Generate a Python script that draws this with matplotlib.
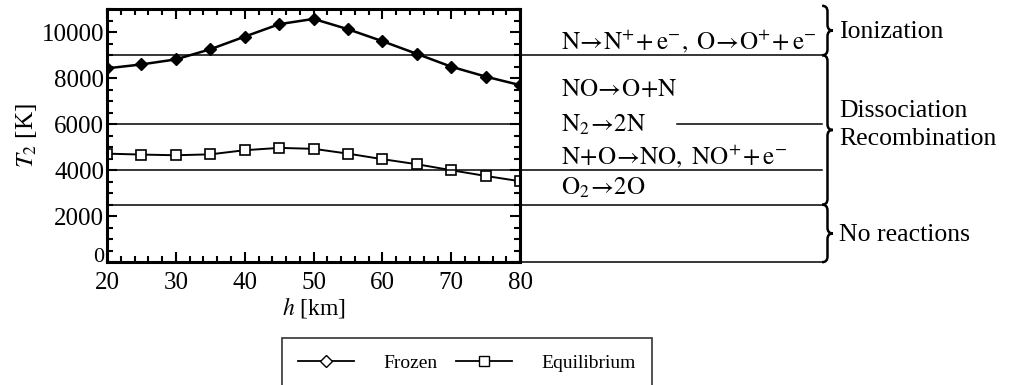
import numpy as np
import matplotlib
matplotlib.use("Agg")
import matplotlib.pyplot as plt
from matplotlib.lines import Line2D
from matplotlib.path import Path
from matplotlib.patches import PathPatch
import matplotlib.transforms as mtransforms

plt.rcParams['font.family'] = ['Liberation Serif', 'DejaVu Serif']
plt.rcParams['mathtext.fontset'] = 'stix'

# Data
altitude = [20, 25, 30, 35, 40, 45, 50, 55, 60, 65, 70, 75, 80]
t_frozen = [8430, 8600, 8820, 9260, 9810, 10350, 10580, 10130, 9610, 9060, 8500, 8070, 7700]
t_equil = [4720, 4680, 4650, 4690, 4870, 4970, 4930, 4720, 4480, 4260, 4000, 3750, 3520]

# reaction threshold temperatures (horizontal lines)
thresholds = [9000, 6000, 4000, 2500, 0]

reactions = [r"$\mathrm{N\!\rightarrow\! N^{+}\!+e^{-},\ O\!\rightarrow\! O^{+}\!+e^{-}}$",
             r"$\mathrm{NO\!\rightarrow\! O\!+\!N}$",
             r"$\mathrm{N_2\!\rightarrow\! 2N}$",
             r"$\mathrm{N\!+\!O\!\rightarrow\! NO,\ NO^{+}\!+e^{-}}$",
             r"$\mathrm{O_2\!\rightarrow\! 2O}$"]
reaction_y = [9600, 7500, 5980, 4590, 3230]

regimes = ["Ionization", "Dissociation\nRecombination", "No reactions"]
regime_span = [(9000, 11150), (2500, 9000), (0, 2500)]
regime_y = [10000, 5950, 1180]


def brace(ax, x0, y0, y1, w, r):
    # vertical curly brace, tip pointing right; x in axes fraction, y in data
    ym = (y0 + y1) / 2
    xh = x0 + w / 2
    verts = [(x0, y1), (xh, y1), (xh, y1 - r), (xh, ym + r), (xh, ym), (x0 + w, ym),
             (xh, ym), (xh, ym - r), (xh, y0 + r), (xh, y0), (x0, y0)]
    codes = [Path.MOVETO, Path.CURVE3, Path.CURVE3, Path.LINETO, Path.CURVE3, Path.CURVE3,
             Path.CURVE3, Path.CURVE3, Path.LINETO, Path.CURVE3, Path.CURVE3]
    trans = mtransforms.blended_transform_factory(ax.transAxes, ax.transData)
    ax.add_patch(PathPatch(Path(verts, codes), transform=trans, fill=False,
                           lw=1.8, color="black", clip_on=False))


fig = plt.figure(figsize=(10.1, 3.85), dpi=100)
ax = fig.add_axes([0.106, 0.319, 0.409, 0.657])

ax.plot(altitude, t_frozen, color="black", lw=1.8, marker="D", ms=6,
        markerfacecolor="black", markeredgecolor="black")
ax.plot(altitude, t_equil, color="black", lw=1.4, marker="s", ms=7,
        markerfacecolor="white", markeredgecolor="black", markeredgewidth=1.2)

trans = mtransforms.blended_transform_factory(ax.transAxes, ax.transData)
x_end = 1.731
for t in thresholds:
    if t == 6000:
        ax.plot([0, 1], [t, t], transform=trans, color="black", lw=1.1, clip_on=False)
        ax.plot([1.38, x_end], [t, t], transform=trans, color="black", lw=1.1, clip_on=False)
    else:
        ax.plot([0, x_end], [t, t], transform=trans, color="black", lw=1.1, clip_on=False)

for label, y in zip(reactions, reaction_y):
    ax.text(1.10, y, label, transform=trans, fontsize=18, va="center", ha="left")

for (y0, y1), label, y in zip(regime_span, regimes, regime_y):
    r = min(250, (y1 - y0) / 4)
    brace(ax, x_end, y0, y1, 0.026, r)
    ax.text(1.772, y, label, transform=trans, fontsize=18.5, va="center", ha="left",
            linespacing=1.35)

ax.set_xlim(20, 80)
ax.set_ylim(0, 11000)
ax.set_xticks([20, 30, 40, 50, 60, 70, 80])
ax.set_yticks([0, 2000, 4000, 6000, 8000, 10000])
ax.set_xticks(np.arange(20, 81, 2), minor=True)
ax.set_yticks(np.arange(0, 11001, 500), minor=True)
ax.tick_params(which="both", direction="in", top=True, right=True, width=1.5)
ax.tick_params(which="major", length=7, labelsize=18, pad=2)
ax.tick_params(axis="x", which="major", pad=7)
ax.tick_params(which="minor", length=4)
for s in ax.spines.values():
    s.set_linewidth(2.2)

# the "0" label sits a little higher, clear of the "20" below it
zero_lbl = ax.get_yticklabels()[0]
zero_lbl.set_transform(zero_lbl.get_transform() +
                       mtransforms.ScaledTranslation(0, 5 / 72, fig.dpi_scale_trans))
zero_lbl.set_fontsize(16)

ax.set_xlabel(r"$h$ [km]", fontsize=17, labelpad=1)
ax.set_ylabel(r"$T_2$ [K]", fontsize=18, labelpad=2)

handles = [Line2D([], [], color="black", lw=1.3, marker="D", ms=6, markerfacecolor="white"),
           Line2D([], [], color="black", lw=1.3, marker="s", ms=7, markerfacecolor="white")]
leg = fig.legend(handles, ["Frozen", "Equilibrium"], ncol=2, loc="upper left",
                 bbox_to_anchor=(0.279, 0.122), fontsize=14, frameon=True, fancybox=False,
                 edgecolor="black", handlelength=2.85, handletextpad=1.5, columnspacing=1.0,
                 borderpad=0.85, borderaxespad=0)
leg.get_frame().set_linewidth(1.2)

fig.savefig("out.png", dpi=100)
